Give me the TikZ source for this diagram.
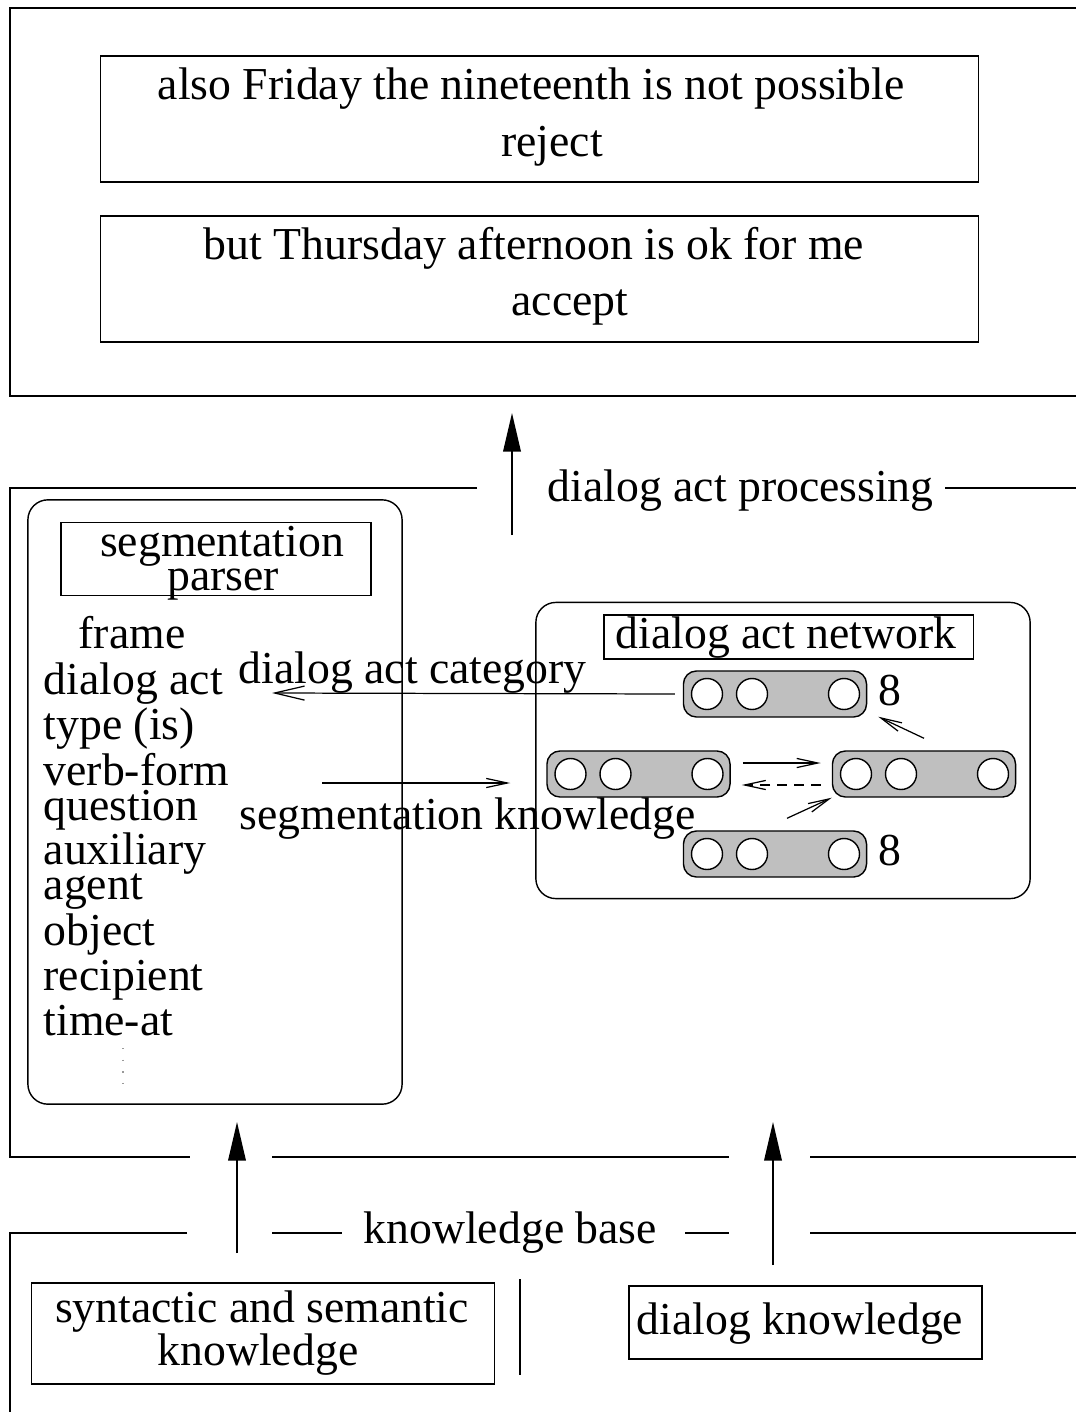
\documentclass[tikz,border=0pt]{standalone}
\usepackage{fontspec}
\setmainfont{Liberation Serif}
\usetikzlibrary{arrows.meta}

\begin{document}
\begin{tikzpicture}[x=0.01cm,y=-0.01cm,
    font=\fontsize{13pt}{16pt}\selectfont,
    frame/.style={line width=0.6pt},
    txt/.style={inner sep=0pt,anchor=base},
    txtl/.style={inner sep=0pt,anchor=base west},
    box/.style={draw,line width=0.35pt,inner sep=0pt},
    panel/.style={draw,line width=0.4pt,rounded corners=0.2cm,inner sep=0pt},
    capsule/.style={draw,line width=0.4pt,fill=black!25,rounded corners=0.13cm,
      minimum width=1.83cm,minimum height=0.46cm,inner sep=0pt},
    unit/.style={circle,draw,fill=white,line width=0.4pt,minimum size=0.31cm,inner sep=0pt},
    bigarrow/.style={line width=0.5pt,-{Triangle[length=11pt,width=5pt]}},
    barb/.style={line width=0.35pt,-{Straight Barb[length=6pt,width=2.6pt]}},
    longbarb/.style={line width=0.35pt,-{Straight Barb[length=8.5pt,width=4pt]}}]
  \useasboundingbox (0,0) rectangle (1075,1412);

  % frames (open to the right)
  \draw[frame] (1085,8) -- (10,8) -- (10,396) -- (1085,396);
  \draw[frame] (477,488) -- (10,488) -- (10,1157) -- (190,1157);
  \draw[frame] (945,488) -- (1085,488);
  \draw[frame] (272,1157) -- (729,1157);
  \draw[frame] (810,1157) -- (1085,1157);
  \draw[frame] (187,1233) -- (10,1233) -- (10,1420);
  \draw[frame] (272,1233) -- (342,1233);
  \draw[frame] (685,1233) -- (729,1233);
  \draw[frame] (810,1233) -- (1085,1233);

  % utterances and their dialog acts
  \node[box,minimum width=8.77cm,minimum height=1.26cm] (utt1) at (539.5,119) {};
  \node[txt] (utt1text) at (531,99) {also Friday the nineteenth is not possible};
  \node[txt] (utt1act) at (552,156) {reject};
  \node[box,minimum width=8.77cm,minimum height=1.26cm] (utt2) at (539.5,279) {};
  \node[txt] (utt2text) at (534,259) {but Thursday afternoon is ok for me};
  \node[txt] (utt2act) at (570,315) {accept};

  \coordinate (procfoot) at (512,535);
  \coordinate (proctip) at (512,413);
  \draw[bigarrow] (procfoot) -- (proctip);
  \node[txtl] (proc) at (547,501) {dialog act processing};

  % segmentation parser
  \node[panel,minimum width=3.74cm,minimum height=6.04cm] (parser) at (215,802) {};
  \node[box,minimum width=3.10cm,minimum height=0.73cm] (parsertitle) at (216,559) {};
  \node[txt] (parserl1) at (222,556) {segmentation};
  \node[txt] (parserl2) at (223,590) {parser};
  \node[txtl] (fframe) at (78,648) {frame};
  \node[txtl] (fact) at (43,694) {dialog act};
  \node[txtl] (ftype) at (43,739) {type (is)};
  \node[txtl] (fverb) at (43,785) {verb-form};
  \node[txtl] (fquest) at (43,820) {question};
  \node[txtl] (faux) at (43,864) {auxiliary};
  \node[txtl] (fagent) at (43,899) {agent};
  \node[txtl] (fobj) at (43,945) {object};
  \node[txtl] (frecip) at (43,990) {recipient};
  \node[txtl] (ftime) at (43,1035) {time-at};
  \draw[black!40,line width=0.3pt,dash pattern=on 0.4pt off 2.9pt] (123,1048) -- (123,1084);

  % dialog act network
  \node[panel,minimum width=4.94cm,minimum height=2.96cm] (net) at (783,750.5) {};
  \node[box,minimum width=3.69cm,minimum height=0.44cm] (nettitle) at (788.5,637) {};
  \node[txt] (nettext) at (786,648) {dialog act network};
  \node[capsule] (top) at (775,694) {};
  \node[capsule] (ml) at (638.5,774) {};
  \node[capsule] (mr) at (924,774) {};
  \node[capsule] (bot) at (775,854) {};
  \foreach \c in {top,ml,mr,bot}
    \foreach \dx [count=\i] in {-68,-23,69}
      \node[unit] (\c\i) at ([shift={(\dx,0)}]\c.center) {};
  \node[txt] (topcount) at (890,705) {8};
  \node[txt] (botcount) at (890,865) {8};
  \draw[barb] ([shift={(12,-11)}]ml.east) -- ([shift={(-11,-11)}]mr.west);
  \draw[barb,dash pattern=on 2.8pt off 2pt] ([shift={(-11,11)}]mr.west) -- ([shift={(11,11)}]ml.east);
  \draw[barb] ([shift={(12,-12)}]bot.north) -- (mr.south west);
  \draw[barb] ([shift={(0,-12)}]mr.north) -- ([shift={(11,-1)}]top.south east);

  % links between parser and network
  \coordinate (cattip) at (272,693);
  \draw[longbarb] ([shift={(-8,0)}]top.west) -- (cattip);
  \node[txtl] (catlabel) at (238,683) {dialog act category};
  \coordinate (segfoot) at (322,783);
  \draw[barb] (segfoot) -- ([shift={(-36,9)}]ml.west);
  \node[txtl] (seglabel) at (239,829) {segmentation knowledge};

  % knowledge base
  \coordinate (synfoot) at (237,1253);
  \coordinate (syntip) at (237,1122);
  \draw[bigarrow] (synfoot) -- (syntip);
  \coordinate (dlgfoot) at (773,1265);
  \coordinate (dlgtip) at (773,1122);
  \draw[bigarrow] (dlgfoot) -- (dlgtip);
  \node[txtl] (kb) at (363,1243) {knowledge base};
  \node[box,minimum width=4.62cm,minimum height=1.01cm] (syn) at (263,1333.5) {};
  \node[txt] (synl1) at (262,1322) {syntactic and semantic};
  \node[txt] (synl2) at (258,1365) {knowledge};
  \coordinate (septop) at (520,1279);
  \coordinate (sepbot) at (520,1375);
  \draw (septop) -- (sepbot);
  \node[box,minimum width=3.53cm,minimum height=0.73cm] (dlg) at (805.5,1322.5) {};
  \node[txt] (dlgtext) at (800,1334) {dialog knowledge};
\end{tikzpicture}
\end{document}
